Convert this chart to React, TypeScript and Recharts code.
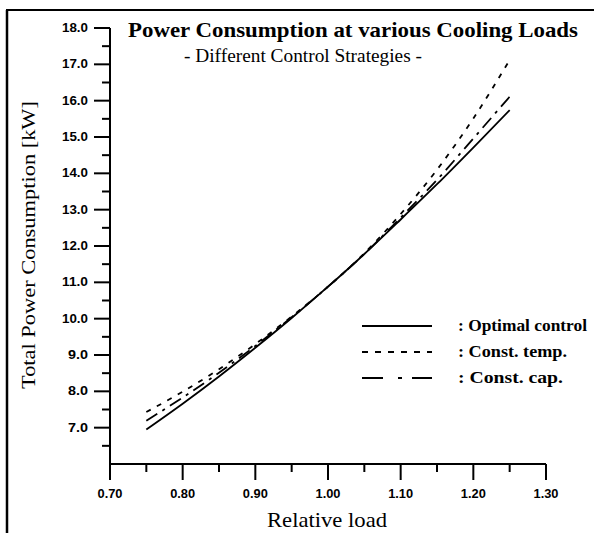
import React from "react";
import { LineChart, Line, XAxis, YAxis } from "recharts";

const loads = [0.75, 0.8, 0.85, 0.9, 0.95, 1.0, 1.05, 1.1, 1.15, 1.2, 1.25];
const optimal = [6.95, 7.66, 8.41, 9.2, 10.02, 10.88, 11.78, 12.73, 13.7, 14.71, 15.74];
const constTemp = [7.43, 7.99, 8.61, 9.3, 10.06, 10.88, 11.8, 12.88, 14.1, 15.51, 17.12];
const constCap = [7.19, 7.83, 8.51, 9.25, 10.04, 10.88, 11.78, 12.78, 13.82, 14.96, 16.11];

const xTicks = [0.7, 0.75, 0.8, 0.85, 0.9, 0.95, 1.0, 1.05, 1.1, 1.15, 1.2, 1.25, 1.3];
const yTicks = [6.5, 7, 7.5, 8, 8.5, 9, 9.5, 10, 10.5, 11, 11.5, 12, 12.5, 13, 13.5, 14, 14.5, 15, 15.5, 16, 16.5, 17, 17.5, 18];

const data = loads.map((x, i) => ({
  x,
  optimal: optimal[i],
  constTemp: constTemp[i],
  constCap: constCap[i],
}));

const tickFont = "'Liberation Sans', Arial, sans-serif";
const serif = "'Liberation Serif', 'Times New Roman', serif";

const XTick = (props: any) => {
  const { x, y, payload } = props;
  const v = payload.value;
  const major = Math.abs(v * 10 - Math.round(v * 10)) < 1e-6;
  return (
    <g>
      <line x1={x} y1={y} x2={x} y2={y + (major ? 16 : 8)} stroke="#000" strokeWidth={2} />
      {major && (
        <text
          x={x}
          y={y + 30}
          textAnchor="middle"
          dominantBaseline="central"
          fontFamily={tickFont}
          fontWeight="bold"
          fontSize={12.5}
          textLength={25}
          lengthAdjust="spacingAndGlyphs"
          fill="#000"
        >
          {v.toFixed(2)}
        </text>
      )}
    </g>
  );
};

const YTick = (props: any) => {
  const { x, y, payload } = props;
  const v = payload.value;
  const major = Math.abs(v - Math.round(v)) < 1e-6;
  return (
    <g>
      <line x1={x - (major ? 16 : 8)} y1={y} x2={x} y2={y} stroke="#000" strokeWidth={2} />
      {major && (
        <text
          x={x - 22}
          y={y}
          textAnchor="end"
          dominantBaseline="central"
          fontFamily={tickFont}
          fontWeight="bold"
          fontSize={12.5}
          textLength={v >= 10 ? 26 : 20}
          lengthAdjust="spacingAndGlyphs"
          fill="#000"
        >
          {v.toFixed(1)}
        </text>
      )}
    </g>
  );
};

export default function App() {
  return (
    <div style={{ position: "fixed", left: 0, top: 0, width: 594, height: 533, background: "#fff" }}>
      <LineChart
        width={594}
        height={533}
        data={data}
        margin={{ top: 28, right: 48, bottom: 29, left: 30 }}
      >
        <XAxis
          dataKey="x"
          type="number"
          domain={[0.7, 1.3]}
          ticks={xTicks}
          interval={0}
          height={40}
          tickSize={0}
          tickMargin={0}
          tickLine={false}
          axisLine={{ stroke: "#000", strokeWidth: 2 }}
          tick={<XTick />}
          allowDecimals
        />
        <YAxis
          type="number"
          domain={[6, 18]}
          ticks={yTicks}
          interval={0}
          width={80}
          tickSize={0}
          tickMargin={0}
          tickLine={false}
          axisLine={{ stroke: "#000", strokeWidth: 2 }}
          tick={<YTick />}
          allowDecimals
        />
        <Line
          type="monotone"
          dataKey="optimal"
          stroke="#000"
          strokeWidth={1.8}
          dot={false}
          isAnimationActive={false}
        />
        <Line
          type="monotone"
          dataKey="constTemp"
          stroke="#000"
          strokeWidth={1.8}
          strokeDasharray="5 7"
          dot={false}
          isAnimationActive={false}
        />
        <Line
          type="monotone"
          dataKey="constCap"
          stroke="#000"
          strokeWidth={1.8}
          strokeDasharray="13 6 3 6"
          dot={false}
          isAnimationActive={false}
        />
      </LineChart>
      <svg
        width={594}
        height={533}
        style={{ position: "absolute", left: 0, top: 0, pointerEvents: "none" }}
      >
        <line x1={6} y1={10} x2={594} y2={10} stroke="#000" strokeWidth={2} />
        <line x1={7} y1={10} x2={7} y2={533} stroke="#000" strokeWidth={2.5} />
        <text
          x={128}
          y={37}
          fontFamily={serif}
          fontWeight="bold"
          fontSize={21}
          textLength={450}
          lengthAdjust="spacingAndGlyphs"
          fill="#000"
        >
          Power Consumption at various Cooling Loads
        </text>
        <text
          x={184}
          y={62}
          fontFamily={serif}
          fontSize={18.5}
          textLength={238}
          lengthAdjust="spacingAndGlyphs"
          fill="#000"
        >
          - Different Control Strategies -
        </text>
        <text
          x={35}
          y={245}
          transform="rotate(-90 35 245)"
          textAnchor="middle"
          fontFamily={serif}
          fontSize={19.5}
          textLength={288}
          lengthAdjust="spacingAndGlyphs"
          fill="#000"
        >
          Total Power Consumption [kW]
        </text>
        <text
          x={267}
          y={527}
          fontFamily={serif}
          fontSize={21}
          textLength={120}
          lengthAdjust="spacingAndGlyphs"
          fill="#000"
        >
          Relative load
        </text>
        <line x1={362} y1={326} x2={432} y2={326} stroke="#000" strokeWidth={1.8} />
        <line x1={362} y1={352} x2={432} y2={352} stroke="#000" strokeWidth={1.8} strokeDasharray="6 7" />
        <line x1={362} y1={378} x2={432} y2={378} stroke="#000" strokeWidth={1.8} strokeDasharray="21 15 4 10 20" />
        <text x={458} y={331} fontFamily={serif} fontWeight="bold" fontSize={17.5} textLength={129} lengthAdjust="spacingAndGlyphs" fill="#000">
          : Optimal control
        </text>
        <text x={458} y={357} fontFamily={serif} fontWeight="bold" fontSize={17.5} textLength={109} lengthAdjust="spacingAndGlyphs" fill="#000">
          : Const. temp.
        </text>
        <text x={458} y={383} fontFamily={serif} fontWeight="bold" fontSize={17.5} textLength={105} lengthAdjust="spacingAndGlyphs" fill="#000">
          : Const. cap.
        </text>
      </svg>
    </div>
  );
}
